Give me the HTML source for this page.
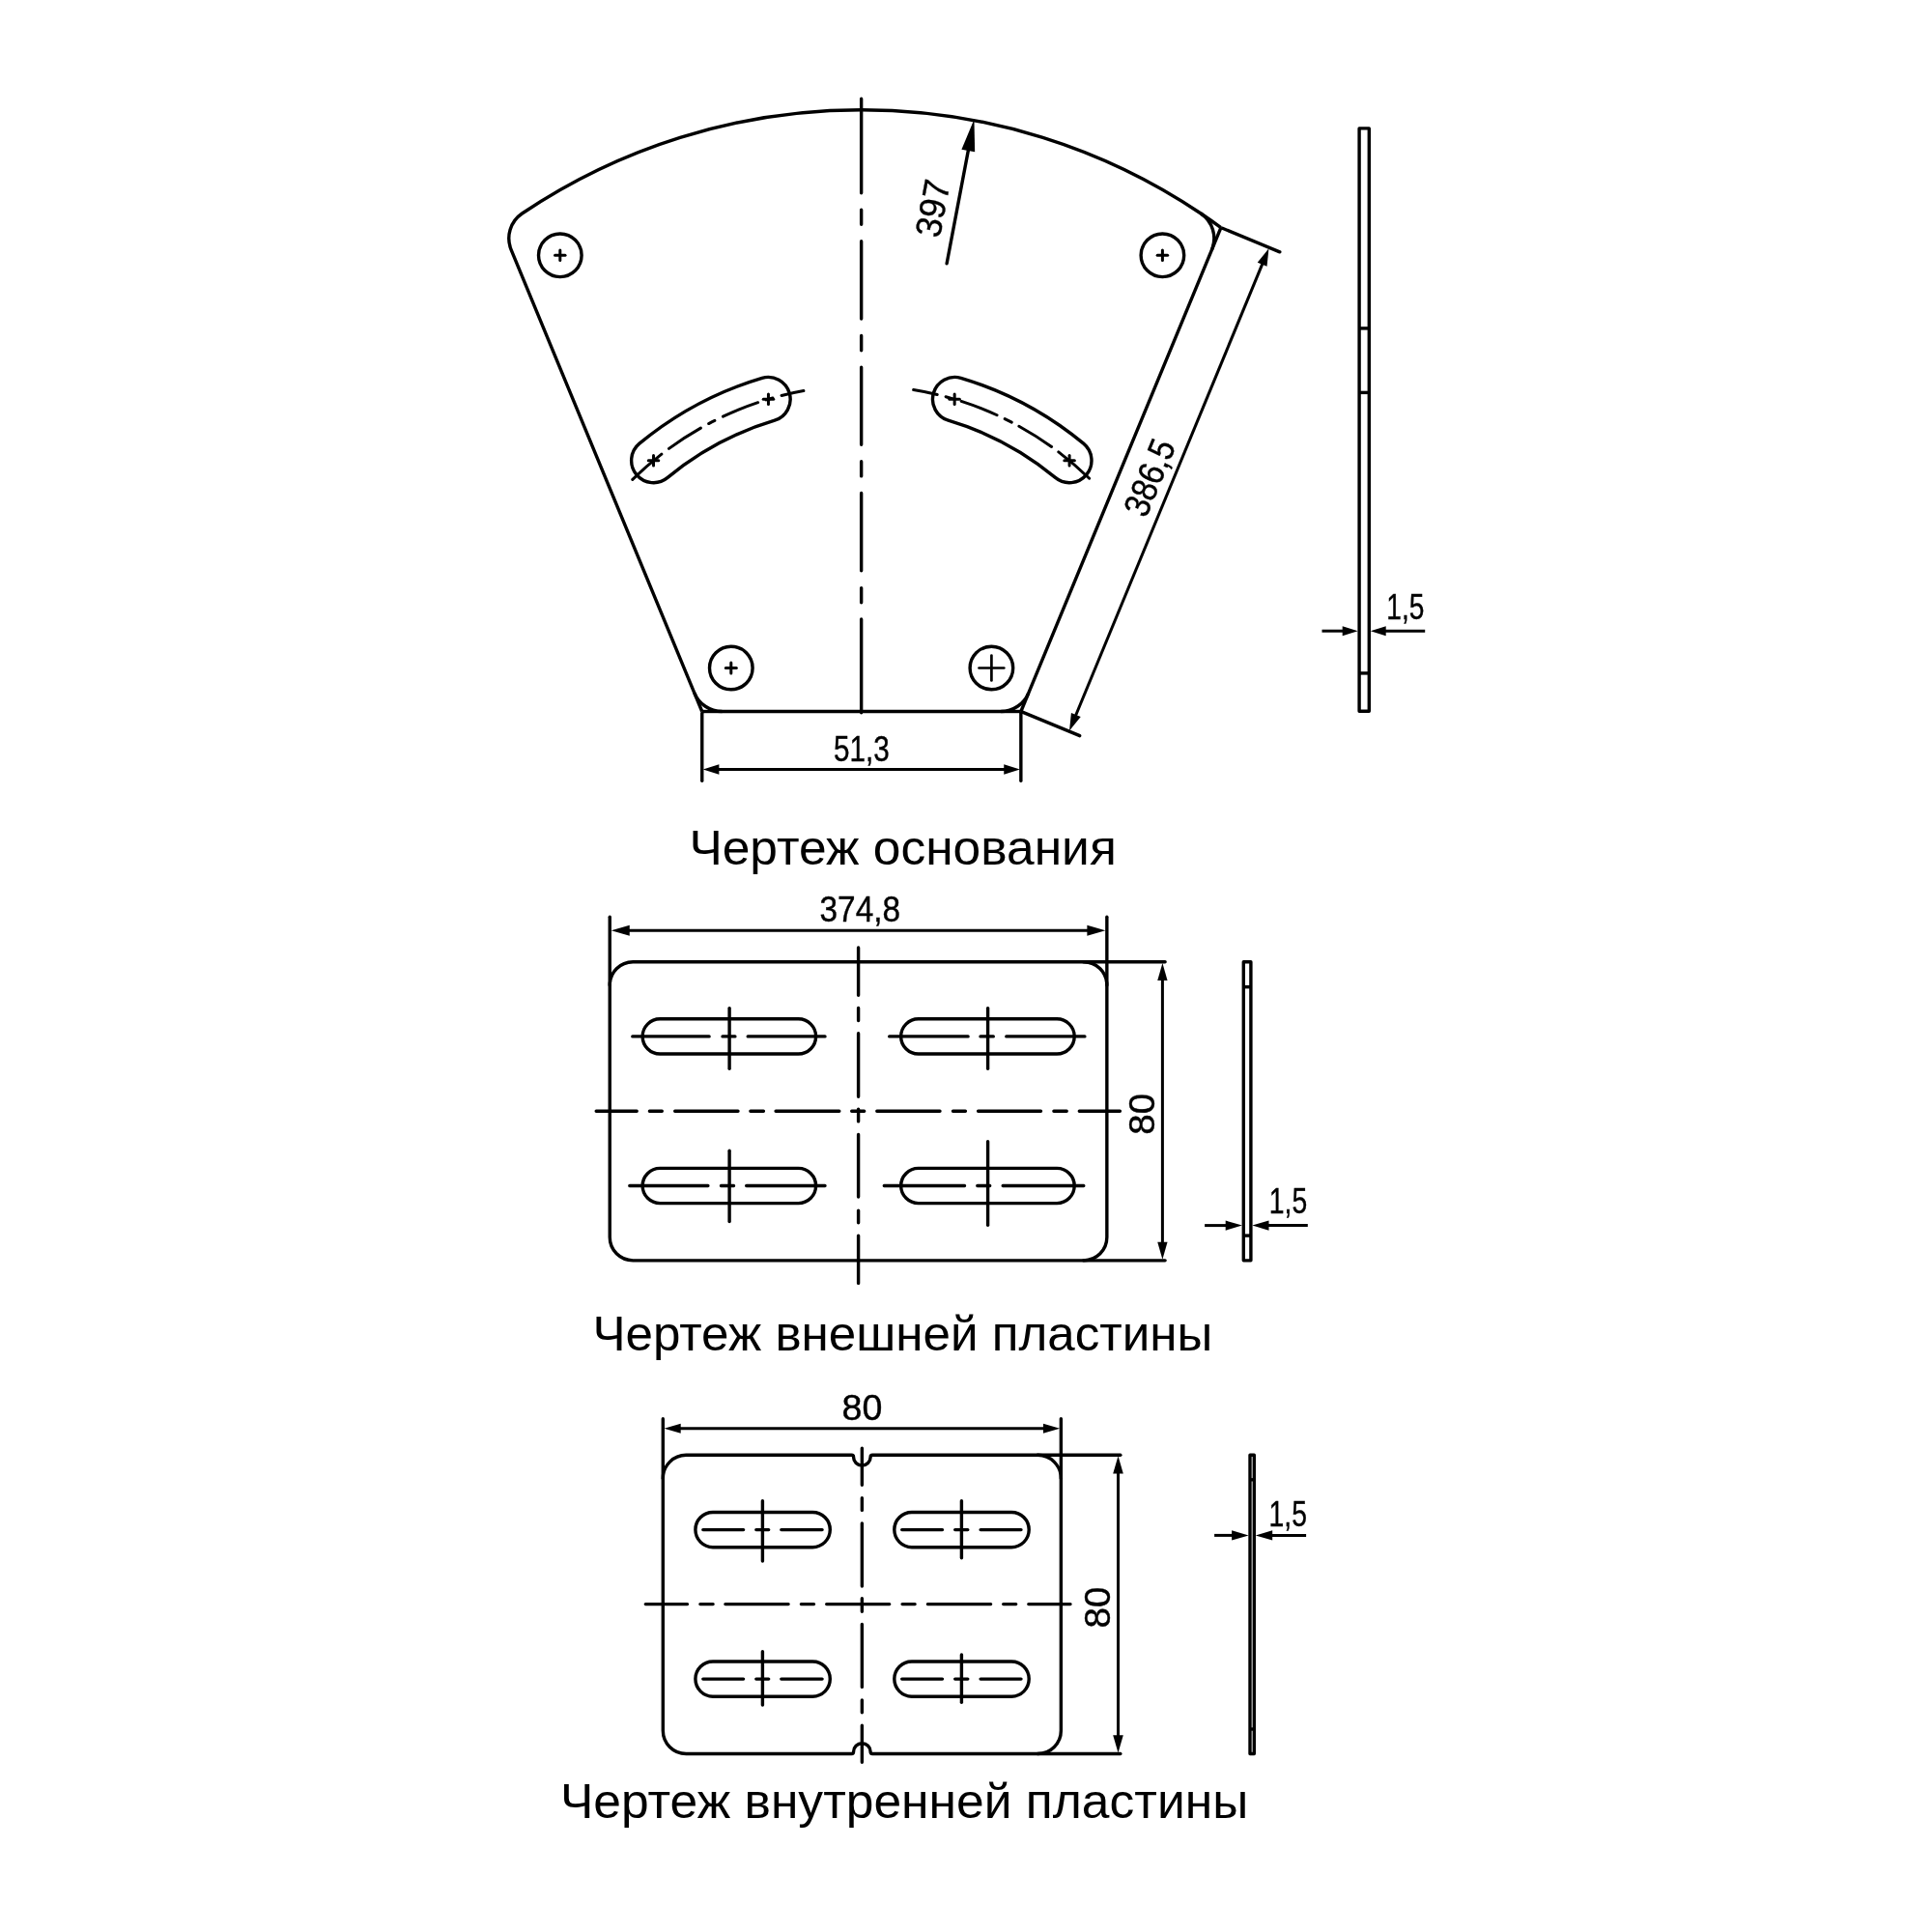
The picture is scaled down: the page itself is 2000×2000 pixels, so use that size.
<!DOCTYPE html>
<html lang="ru"><head><meta charset="utf-8"><title>Чертеж</title>
<style>html,body{margin:0;padding:0;background:#fff;}body{width:2000px;height:2000px;overflow:hidden;}svg{display:block;}svg text{font-family:"Liberation Sans", sans-serif;fill:#000;stroke:none;}svg text.d{stroke:#000;stroke-width:0.4px;}</style></head><body>
<svg width="2000" height="2000" viewBox="0 0 2000 2000" fill="none" stroke="#000">
<rect x="0" y="0" width="2000" height="2000" fill="#fff" stroke="none"/>
<defs><mask id="m" maskUnits="userSpaceOnUse" x="0" y="0" width="2000" height="2000"><rect x="0" y="0" width="2000" height="2000" fill="#fff" stroke="none"/></mask></defs>
<g mask="url(#m)">
<g id="v1">
<path d="M1036.12,736.5 A31.0,31.0 0 0 0 1064.77,717.34 L1254.44,258.57 A31.0,31.0 0 0 0 1243.12,221.02 A628.7,628.7 0 0 0 540.48,221.02 A31.0,31.0 0 0 0 529.16,258.57 L718.83,717.34 A31.0,31.0 0 0 0 747.48,736.5 Z" stroke-width="3.4"/>
<line x1="1254.44" y1="258.57" x2="1263.92" y2="235.65" stroke-width="3.4"/>
<path d="M1243.12,221.02 A628.7,628.7 0 0 1 1263.92,235.65" stroke-width="3.4"/>
<line x1="1036.12" y1="736.5" x2="1056.85" y2="736.5" stroke-width="3.4"/>
<line x1="1064.77" y1="717.34" x2="1056.85" y2="736.5" stroke-width="3.4"/>
<line x1="747.48" y1="736.5" x2="726.75" y2="736.5" stroke-width="3.4"/>
<line x1="718.83" y1="717.34" x2="726.75" y2="736.5" stroke-width="3.4"/>
<path d="M891.65,102.3L891.65,199.7M891.65,217.2L891.65,232.3M891.65,249.8L891.65,330M891.65,347.5L891.65,362.7M891.65,380.3L891.65,460.2M891.65,477.7L891.65,492.9M891.65,510.5L891.65,590.7M891.65,608.6L891.65,623.8M891.65,640.9L891.65,737.7" stroke-width="3.4" stroke-linecap="round"/>
<circle cx="579.8" cy="264.3" r="22.3" stroke-width="3.4"/>
<line x1="574.55" y1="264.3" x2="585.05" y2="264.3" stroke-width="3" stroke-linecap="round"/>
<line x1="579.8" y1="259.05" x2="579.8" y2="269.55" stroke-width="3" stroke-linecap="round"/>
<circle cx="1203.4" cy="264.3" r="22.3" stroke-width="3.4"/>
<line x1="1198.15" y1="264.3" x2="1208.65" y2="264.3" stroke-width="3" stroke-linecap="round"/>
<line x1="1203.4" y1="259.05" x2="1203.4" y2="269.55" stroke-width="3" stroke-linecap="round"/>
<circle cx="756.8" cy="691.5" r="22.3" stroke-width="3.4"/>
<line x1="751.3" y1="691.5" x2="762.3" y2="691.5" stroke-width="3" stroke-linecap="round"/>
<line x1="756.8" y1="686" x2="756.8" y2="697" stroke-width="3" stroke-linecap="round"/>
<circle cx="1026.4" cy="691.5" r="22.3" stroke-width="3.4"/>
<line x1="1013.5" y1="691.5" x2="1039.3" y2="691.5" stroke-width="2.7" stroke-linecap="round"/>
<line x1="1026.4" y1="678.6" x2="1026.4" y2="704.4" stroke-width="2.7" stroke-linecap="round"/>
<path d="M788.91,391.3 A360.35,360.35 0 0 0 661.91,459.16 A22.9,22.9 0 0 0 691.13,494.43 A314.55,314.55 0 0 1 801.99,435.19 A22.9,22.9 0 0 0 788.91,391.3 Z" stroke-width="3.4"/>
<path d="M831.9,404.56A337.45,337.45 0 0 0 809.05,409.5M799.89,411.96A337.45,337.45 0 0 0 793.17,413.94M784.64,416.67A337.45,337.45 0 0 0 748.47,431.15M739.89,435.33A337.45,337.45 0 0 0 733.66,438.55M725.35,443.11A337.45,337.45 0 0 0 692.47,464.36M684.86,470.1A337.45,337.45 0 0 0 654.79,496.44" stroke-width="3.0" stroke-linecap="round"/>
<line x1="790.2" y1="413.25" x2="800.7" y2="413.25" stroke-width="3" stroke-linecap="round"/>
<line x1="795.45" y1="408" x2="795.45" y2="418.5" stroke-width="3" stroke-linecap="round"/>
<line x1="671.27" y1="476.79" x2="681.77" y2="476.79" stroke-width="3" stroke-linecap="round"/>
<line x1="676.52" y1="471.54" x2="676.52" y2="482.04" stroke-width="3" stroke-linecap="round"/>
<path d="M994.69,391.3 A360.35,360.35 0 0 1 1121.69,459.16 A22.9,22.9 0 0 1 1092.47,494.43 A314.55,314.55 0 0 0 981.61,435.19 A22.9,22.9 0 0 1 994.69,391.3 Z" stroke-width="3.4"/>
<path d="M945.66,403.53A337.45,337.45 0 0 1 970.21,408.44M979.11,410.69A337.45,337.45 0 0 1 985.86,412.57M995.15,415.42A337.45,337.45 0 0 1 1032.09,429.74M1040.18,433.57A337.45,337.45 0 0 1 1047.23,437.13M1054.86,441.21A337.45,337.45 0 0 1 1088.55,462.49M1095.8,467.84A337.45,337.45 0 0 1 1127.63,495.28" stroke-width="3.0" stroke-linecap="round"/>
<line x1="982.9" y1="413.25" x2="993.4" y2="413.25" stroke-width="3" stroke-linecap="round"/>
<line x1="988.15" y1="408" x2="988.15" y2="418.5" stroke-width="3" stroke-linecap="round"/>
<line x1="1101.83" y1="476.79" x2="1112.33" y2="476.79" stroke-width="3" stroke-linecap="round"/>
<line x1="1107.08" y1="471.54" x2="1107.08" y2="482.04" stroke-width="3" stroke-linecap="round"/>
<line x1="980.12" y1="272.73" x2="1004.4" y2="144.92" stroke-width="3.4" stroke-linecap="round"/>
<polygon points="1008.45,123.6 1009.17,157.33 995.41,154.71" fill="#000" stroke="none"/>
<text class="d" x="978.2" y="218" font-size="37.6" text-anchor="middle" transform="rotate(-79.24 978.2 218)" textLength="59.5" lengthAdjust="spacingAndGlyphs">397</text>
<line x1="726.75" y1="738.2" x2="726.75" y2="808.3" stroke-width="3.4" stroke-linecap="round"/>
<line x1="1056.85" y1="738.2" x2="1056.85" y2="808.3" stroke-width="3.4" stroke-linecap="round"/>
<line x1="735.75" y1="796.4" x2="1047.85" y2="796.4" stroke-width="3"/>
<polygon points="727.75,796.4 744.35,791.15 744.35,801.65" fill="#000" stroke="none"/>
<polygon points="1055.85,796.4 1039.25,801.65 1039.25,791.15" fill="#000" stroke="none"/>
<text class="d" x="891.85" y="787.8" font-size="37.6" text-anchor="middle" textLength="57.8" lengthAdjust="spacingAndGlyphs">51,3</text>
<line x1="1265.49" y1="236.3" x2="1324.82" y2="260.83" stroke-width="3.4" stroke-linecap="round"/>
<line x1="1058.42" y1="737.15" x2="1117.75" y2="761.68" stroke-width="3.4" stroke-linecap="round"/>
<line x1="1310.77" y1="263.68" x2="1109.81" y2="749.74" stroke-width="3"/>
<polygon points="1313.44,257.21 1311.54,275.68 1301.74,271.63" fill="#000" stroke="none"/>
<polygon points="1107.02,756.48 1108.92,738.01 1118.72,742.06" fill="#000" stroke="none"/>
<text class="d" x="1202" y="499.4" font-size="37.6" text-anchor="middle" transform="rotate(-67.54 1202 499.4)" textLength="82" lengthAdjust="spacingAndGlyphs">386,5</text>
<rect x="1407.1" y="132.9" width="10.2" height="603.3" stroke-width="3.4" stroke-linejoin="round"/>
<line x1="1407.1" y1="339.9" x2="1417.3" y2="339.9" stroke-width="3.4"/>
<line x1="1407.1" y1="406.4" x2="1417.3" y2="406.4" stroke-width="3.4"/>
<line x1="1407.1" y1="696.9" x2="1417.3" y2="696.9" stroke-width="3.4"/>
<line x1="1368.5" y1="653.2" x2="1397.4" y2="653.2" stroke-width="3"/>
<polygon points="1405.7,653.2 1389.7,658.25 1389.7,648.15" fill="#000" stroke="none"/>
<line x1="1427" y1="653.2" x2="1475.2" y2="653.2" stroke-width="3"/>
<polygon points="1418.7,653.2 1434.7,648.15 1434.7,658.25" fill="#000" stroke="none"/>
<text class="d" x="1454.9" y="641.4" font-size="37.6" text-anchor="middle" textLength="39.1" lengthAdjust="spacingAndGlyphs">1,5</text>
<text x="713.4" y="895" font-size="50.5" text-anchor="start" textLength="442.4" lengthAdjust="spacingAndGlyphs">Чертеж основания</text>
</g>
<g id="v2">
<rect x="631.25" y="995.75" width="514.6" height="309.1" rx="24.0" ry="24.0" stroke-width="3.4"/>
<path d="M617.2,1150.25L659.2,1150.25M672.4,1150.25L685.3,1150.25M698.7,1150.25L764,1150.25M776.9,1150.25L790.4,1150.25M803.1,1150.25L868.8,1150.25M881.7,1150.25L894.7,1150.25M907.8,1150.25L973,1150.25M986.5,1150.25L999.4,1150.25M1012.6,1150.25L1077.5,1150.25M1090.9,1150.25L1104.2,1150.25M1117.3,1150.25L1159.4,1150.25" stroke-width="3.4" stroke-linecap="round"/>
<path d="M888.6,980.9L888.6,1030.3M888.6,1043.5L888.6,1056.6M888.6,1069.8L888.6,1135.3M888.6,1148.3L888.6,1160.9M888.6,1174.5L888.6,1239M888.6,1253.1L888.6,1265.7M888.6,1279.1L888.6,1328.4" stroke-width="3.4" stroke-linecap="round"/>
<rect x="665.15" y="1054.8" width="179.45" height="36.2" rx="18.1" ry="18.1" stroke-width="3.4"/>
<line x1="755.1" y1="1043.6" x2="755.1" y2="1106.3" stroke-width="3.4" stroke-linecap="round"/>
<path d="M654.8,1072.9L734.1,1072.9M748,1072.9L760.9,1072.9M774.2,1072.9L854,1072.9" stroke-width="3.4" stroke-linecap="round"/>
<rect x="665.15" y="1209.4" width="179.45" height="36.2" rx="18.1" ry="18.1" stroke-width="3.4"/>
<line x1="755.1" y1="1191.2" x2="755.1" y2="1264.6" stroke-width="3.4" stroke-linecap="round"/>
<path d="M651.8,1227.5L732.9,1227.5M746.5,1227.5L759.5,1227.5M772.7,1227.5L854,1227.5" stroke-width="3.4" stroke-linecap="round"/>
<rect x="932.65" y="1054.8" width="179.55" height="36.2" rx="18.1" ry="18.1" stroke-width="3.4"/>
<line x1="1022.6" y1="1043.6" x2="1022.6" y2="1106.3" stroke-width="3.4" stroke-linecap="round"/>
<path d="M920.7,1072.9L1002.1,1072.9M1015,1072.9L1028.3,1072.9M1041.8,1072.9L1122.9,1072.9" stroke-width="3.4" stroke-linecap="round"/>
<rect x="932.65" y="1209.4" width="179.55" height="36.2" rx="18.1" ry="18.1" stroke-width="3.4"/>
<line x1="1022.6" y1="1181.8" x2="1022.6" y2="1268.3" stroke-width="3.4" stroke-linecap="round"/>
<path d="M915.3,1227.5L998.5,1227.5M1011.8,1227.5L1024.7,1227.5M1038.2,1227.5L1121.8,1227.5" stroke-width="3.4" stroke-linecap="round"/>
<line x1="631.25" y1="949.2" x2="631.25" y2="1020.05" stroke-width="3.4" stroke-linecap="round"/>
<line x1="1145.85" y1="949.2" x2="1145.85" y2="1020.05" stroke-width="3.4" stroke-linecap="round"/>
<line x1="640.75" y1="963.3" x2="1136.35" y2="963.3" stroke-width="3"/>
<polygon points="632.75,963.3 651.75,957.85 651.75,968.75" fill="#000" stroke="none"/>
<polygon points="1144.35,963.3 1125.35,968.75 1125.35,957.85" fill="#000" stroke="none"/>
<text class="d" x="890.3" y="953.9" font-size="37.6" text-anchor="middle" textLength="83.6" lengthAdjust="spacingAndGlyphs">374,8</text>
<line x1="1121.55" y1="995.75" x2="1206.1" y2="995.75" stroke-width="3.4" stroke-linecap="round"/>
<line x1="1121.55" y1="1304.85" x2="1206.1" y2="1304.85" stroke-width="3.4" stroke-linecap="round"/>
<line x1="1203.4" y1="1004.95" x2="1203.4" y2="1295.65" stroke-width="3"/>
<polygon points="1203.4,996.95 1208.55,1014.95 1198.25,1014.95" fill="#000" stroke="none"/>
<polygon points="1203.4,1303.65 1198.25,1285.65 1208.55,1285.65" fill="#000" stroke="none"/>
<text class="d" x="1195.4" y="1153.3" font-size="37.6" text-anchor="middle" transform="rotate(-90 1195.4 1153.3)" textLength="42.7" lengthAdjust="spacingAndGlyphs">80</text>
<rect x="1287.3" y="995.75" width="7.6" height="309.1" stroke-width="3.4" stroke-linejoin="round"/>
<line x1="1287.3" y1="1021.7" x2="1294.9" y2="1021.7" stroke-width="3.4"/>
<line x1="1287.3" y1="1279.1" x2="1294.9" y2="1279.1" stroke-width="3.4"/>
<line x1="1247.1" y1="1268.6" x2="1277.6" y2="1268.6" stroke-width="3"/>
<polygon points="1285.9,1268.6 1268.7,1273.65 1268.7,1263.55" fill="#000" stroke="none"/>
<line x1="1304.6" y1="1268.6" x2="1353.8" y2="1268.6" stroke-width="3"/>
<polygon points="1296.3,1268.6 1313.5,1263.55 1313.5,1273.65" fill="#000" stroke="none"/>
<text class="d" x="1333.5" y="1256.1" font-size="37.6" text-anchor="middle" textLength="39.4" lengthAdjust="spacingAndGlyphs">1,5</text>
<text x="613.4" y="1398.1" font-size="50.5" text-anchor="start" textLength="641.9" lengthAdjust="spacingAndGlyphs">Чертеж внешней пластины</text>
</g>
<g id="v3">
<path d="M710.3,1506.3 H881.55 Q883.55,1506.3 883.55,1508.3 A8.8,8.8 0 0 0 901.15,1508.3 Q901.15,1506.3 903.15,1506.3 H1074.35 A24.0,24.0 0 0 1 1098.35,1530.3 V1791.5 A24.0,24.0 0 0 1 1074.35,1815.5 H903.15 Q901.15,1815.5 901.15,1813.5 A8.8,8.8 0 0 0 883.55,1813.5 Q883.55,1815.5 881.55,1815.5 H710.3 A24.0,24.0 0 0 1 686.3,1791.5 V1530.3 A24.0,24.0 0 0 1 710.3,1506.3 Z" stroke-width="3.4"/>
<path d="M668.3,1660.6L711.5,1660.6M724.9,1660.6L738.1,1660.6M750.9,1660.6L816.1,1660.6M829.4,1660.6L842.5,1660.6M855.7,1660.6L920.7,1660.6M934.1,1660.6L947.1,1660.6M960.4,1660.6L1025.6,1660.6M1038.7,1660.6L1051.7,1660.6M1064.8,1660.6L1108,1660.6" stroke-width="3.4" stroke-linecap="round"/>
<path d="M892.35,1499.3L892.35,1537.3M892.35,1550.8L892.35,1563.4M892.35,1576.9L892.35,1642.1M892.35,1654.8L892.35,1668.2M892.35,1681.4L892.35,1746.4M892.35,1759.9L892.35,1772.8M892.35,1786.2L892.35,1824.2" stroke-width="3.4" stroke-linecap="round"/>
<rect x="719.9" y="1565.5" width="139.4" height="36.2" rx="18.1" ry="18.1" stroke-width="3.4"/>
<line x1="789.4" y1="1553.8" x2="789.4" y2="1616.1" stroke-width="3.4" stroke-linecap="round"/>
<path d="M727.8,1583.6L769.6,1583.6M782.8,1583.6L795.7,1583.6M808.8,1583.6L851.1,1583.6" stroke-width="3.4" stroke-linecap="round"/>
<rect x="719.9" y="1720" width="139.4" height="36.2" rx="18.1" ry="18.1" stroke-width="3.4"/>
<line x1="789.4" y1="1709.7" x2="789.4" y2="1765" stroke-width="3.4" stroke-linecap="round"/>
<path d="M727.8,1738.1L769.6,1738.1M782.8,1738.1L795.7,1738.1M808.8,1738.1L851.1,1738.1" stroke-width="3.4" stroke-linecap="round"/>
<rect x="925.8" y="1565.5" width="139.4" height="36.2" rx="18.1" ry="18.1" stroke-width="3.4"/>
<line x1="995.4" y1="1553.8" x2="995.4" y2="1612.8" stroke-width="3.4" stroke-linecap="round"/>
<path d="M933.7,1583.6L975.5,1583.6M988.7,1583.6L1001.8,1583.6M1015.1,1583.6L1057,1583.6" stroke-width="3.4" stroke-linecap="round"/>
<rect x="925.8" y="1720" width="139.4" height="36.2" rx="18.1" ry="18.1" stroke-width="3.4"/>
<line x1="995.4" y1="1713" x2="995.4" y2="1762.2" stroke-width="3.4" stroke-linecap="round"/>
<path d="M933.7,1738.1L975.5,1738.1M988.7,1738.1L1001.8,1738.1M1015.1,1738.1L1057,1738.1" stroke-width="3.4" stroke-linecap="round"/>
<line x1="686.3" y1="1468.8" x2="686.3" y2="1530.6" stroke-width="3.4" stroke-linecap="round"/>
<line x1="1098.35" y1="1468.8" x2="1098.35" y2="1530.6" stroke-width="3.4" stroke-linecap="round"/>
<line x1="695.5" y1="1478.7" x2="1089.15" y2="1478.7" stroke-width="3"/>
<polygon points="687.5,1478.7 704.7,1473.7 704.7,1483.7" fill="#000" stroke="none"/>
<polygon points="1097.15,1478.7 1079.95,1483.7 1079.95,1473.7" fill="#000" stroke="none"/>
<text class="d" x="892.5" y="1470" font-size="37.6" text-anchor="middle" textLength="41.8" lengthAdjust="spacingAndGlyphs">80</text>
<line x1="1074.05" y1="1506.3" x2="1159.85" y2="1506.3" stroke-width="3.4" stroke-linecap="round"/>
<line x1="1074.05" y1="1815.5" x2="1159.85" y2="1815.5" stroke-width="3.4" stroke-linecap="round"/>
<line x1="1157.5" y1="1515.3" x2="1157.5" y2="1806.5" stroke-width="3"/>
<polygon points="1157.5,1507.3 1162.8,1525.6 1152.2,1525.6" fill="#000" stroke="none"/>
<polygon points="1157.5,1814.5 1152.2,1796.2 1162.8,1796.2" fill="#000" stroke="none"/>
<text class="d" x="1149.3" y="1664.1" font-size="37.6" text-anchor="middle" transform="rotate(-90 1149.3 1664.1)" textLength="42.7" lengthAdjust="spacingAndGlyphs">80</text>
<rect x="1294.0" y="1506.3" width="4.3" height="309.2" stroke-width="3.4" stroke-linejoin="round"/>
<line x1="1294" y1="1531.8" x2="1298.3" y2="1531.8" stroke-width="3.4"/>
<line x1="1294" y1="1790" x2="1298.3" y2="1790" stroke-width="3.4"/>
<line x1="1257.1" y1="1589.4" x2="1284.3" y2="1589.4" stroke-width="3"/>
<polygon points="1292.6,1589.4 1275.1,1594.45 1275.1,1584.35" fill="#000" stroke="none"/>
<line x1="1308" y1="1589.4" x2="1352.1" y2="1589.4" stroke-width="3"/>
<polygon points="1299.7,1589.4 1317.2,1584.35 1317.2,1594.45" fill="#000" stroke="none"/>
<text class="d" x="1333.2" y="1580.3" font-size="37.6" text-anchor="middle" textLength="39.4" lengthAdjust="spacingAndGlyphs">1,5</text>
<text x="580" y="1882" font-size="50.5" text-anchor="start" textLength="712.2" lengthAdjust="spacingAndGlyphs">Чертеж внутренней пластины</text>
</g>
</g>
</svg></body></html>
